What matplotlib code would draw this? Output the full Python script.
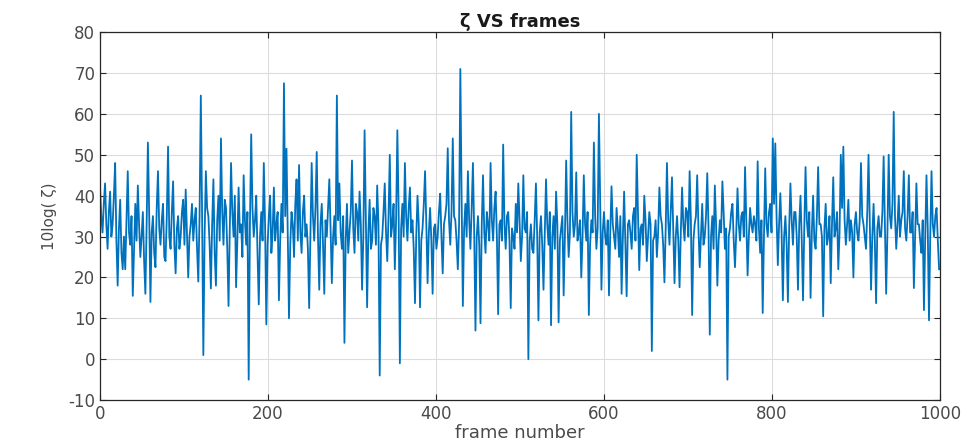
import matplotlib
matplotlib.use("Agg")
import matplotlib.pyplot as plt
import numpy as np

# 10log(zeta) values (one every 1.5 frames)
zeta_db = [
    42, 35, 31, 38, 43, 33, 27, 36, 41, 30, 33, 40, 48, 29, 18, 32, 39, 26, 22, 30,
    22, 34, 46, 31, 28, 35, 15.5, 27, 38, 29, 42.5, 33, 25, 30, 36, 24, 16, 33, 53, 36,
    14, 31, 35, 26, 22.5, 37, 46, 32, 28, 34, 38, 25, 24, 35, 52, 30, 27, 36, 43.5, 28,
    21, 32, 35, 27, 30, 36, 39, 28, 41.5, 31, 20, 30, 33, 38, 29, 34, 37, 27, 19, 35,
    64.5, 36, 1, 30, 46, 37, 35, 28, 17.3, 33, 44, 26, 18, 34, 40, 29, 54, 36, 28, 39,
    37, 27, 13, 32, 48, 36, 30, 40, 17.6, 29, 42, 31, 33, 25, 45, 34, 28, 36, -5, 33,
    55, 37, 30, 34, 40, 26, 13.4, 30, 36, 29, 48, 33, 8.5, 28, 35, 40, 26, 31, 42, 29,
    33, 36, 14.4, 29, 38, 31, 67.5, 35, 51.5, 30, 10, 28, 36, 33, 25, 38, 44, 29, 47.5, 31,
    26, 36, 40, 30, 33, 27, 12.5, 31, 48, 35, 29, 37, 50.7, 30, 17, 33, 38, 28, 16, 34,
    30, 37, 44, 32, 18.6, 30, 35, 28, 64.5, 34, 43, 31, 27, 35, 4, 29, 38, 26, 31, 36,
    48.6, 32, 26, 38, 36, 29, 41, 33, 17, 30, 56, 35, 12.7, 31, 39, 27, 29, 37, 35, 28,
    42.5, 33, -4, 28, 30, 36, 43, 31, 24, 35, 50, 30, 33, 38, 22, 34, 56, 37, -1, 32,
    38, 30, 48, 35, 29, 37, 42, 31, 34, 27, 13.7, 30, 40, 33, 12.7, 29, 32, 38, 46, 33,
    18.6, 31, 37, 29, 16, 32, 33, 27, 30, 36, 40.5, 30, 21, 33, 35, 38, 51.6, 34, 28, 36,
    54, 35, 34, 29, 22, 33, 71, 40, 13, 32, 38, 30, 46, 34, 27, 37, 48, 31, 7, 30,
    35, 28, 8.8, 33, 45, 31, 26, 36, 33, 29, 48, 34, 29, 37, 41, 30, 11, 33, 34, 29,
    52.5, 33, 27, 35, 36, 29, 12.5, 32, 30, 27, 38, 31, 43, 34, 24, 30, 45, 32, 31, 36,
    0, 29, 33, 27, 26, 34, 43, 30, 9.5, 31, 35, 28, 17, 30, 44, 33, 28, 36, 8.3, 30,
    35, 27, 41, 33, 9, 29, 32, 35, 15.6, 30, 48.6, 34, 25, 31, 60.5, 36, 30, 33, 45.7, 29,
    31, 34, 20, 30, 45, 33, 29, 36, 10.8, 28, 34, 31, 53, 35, 27, 32, 60, 38, 17, 31,
    36, 30, 28, 34, 15.6, 31, 42.3, 33, 30, 27, 37, 32, 25, 35, 16, 30, 41, 28, 15.4, 33,
    34, 31, 27, 35, 37, 29, 50, 36, 21.8, 32, 33, 28, 40, 34, 24, 30, 36, 33, 2, 29,
    30, 34, 25, 31, 42, 35, 33, 28, 18.8, 32, 48, 34, 28, 36, 44.5, 31, 18.6, 30, 35, 29,
    17.6, 31, 42, 33, 29, 37, 36, 30, 46, 34, 10.8, 29, 33, 35, 45, 32, 22.5, 30, 38, 28,
    30, 35, 45.5, 32, 6, 30, 35, 27, 42.5, 33, 18, 29, 34, 31, 43.5, 36, 27, 32, -5, 30,
    32, 36, 38, 29, 22.5, 31, 41.8, 33, 29, 35, 36, 30, 47, 34, 20.5, 30, 37, 33, 31, 35,
    33, 29, 48.4, 32, 26, 34, 11.3, 30, 46.7, 33, 30, 36, 38, 31, 54, 38, 52.8, 35, 23, 33,
    40.6, 31, 14.4, 30, 35, 28, 14, 32, 43, 34, 28, 36, 36, 30, 17, 33, 40, 29, 14.4, 32,
    47, 34, 30, 36, 15, 31, 40, 29, 27, 35, 47, 33, 33, 30, 10.5, 32, 38, 28, 30, 35,
    18.6, 33, 44.5, 30, 32, 36, 22, 31, 50, 37, 52, 34, 28, 33, 39, 29, 34, 31, 20, 33,
    36, 31, 29, 34, 48, 35, 33, 30, 27, 36, 50, 33, 17, 30, 38, 29, 13.7, 32, 35, 30,
    30, 36, 49.6, 33, 16, 31, 50, 35, 32, 38, 60.5, 35, 27, 33, 40, 30, 34, 36, 46, 32,
    29, 35, 45, 31, 31, 36, 17.4, 30, 43, 33, 33, 29, 26, 34, 12, 30, 45, 32, 9.5, 30,
    46, 33, 30, 35, 37, 29, 22,
]

# frame numbers
frames = np.arange(0, 1000, 1.5)[:len(zeta_db)]

x_ticks = [0, 200, 400, 600, 800, 1000]
y_ticks = [-10, 0, 10, 20, 30, 40, 50, 60, 70, 80]

title_text = "ζ VS frames"
x_label = "frame number"
y_label = "10log( ζ)"

plt.rcParams["font.family"] = ["DejaVu Sans"]
plt.rcParams["axes.unicode_minus"] = False

fig = plt.figure(figsize=(9.73, 4.47), dpi=100)
ax = fig.add_axes([0.1028, 0.105, 0.8632, 0.823])

ax.plot(frames, zeta_db, color="#0072BD", linewidth=1.3)

ax.set_xlim(0, 1000)
ax.set_ylim(-10, 80)
ax.set_xticks(x_ticks)
ax.set_yticks(y_ticks)

ax.grid(True, color="#dcdcdc", linewidth=0.8)
ax.set_axisbelow(True)

tick_color = "#4a4a4a"
ax.tick_params(direction="in", top=True, right=True, length=4,
               colors="#262626", labelcolor=tick_color, labelsize=12)
for s in ax.spines.values():
    s.set_color("#262626")
    s.set_linewidth(0.9)

ax.set_title(title_text, fontsize=13, fontweight="bold", color="#1a1a1a", pad=4)
ax.set_xlabel(x_label, fontsize=13, color=tick_color, labelpad=1)
ax.set_ylabel(y_label, fontsize=11, color=tick_color, labelpad=8)

fig.savefig("out.png", dpi=100)
